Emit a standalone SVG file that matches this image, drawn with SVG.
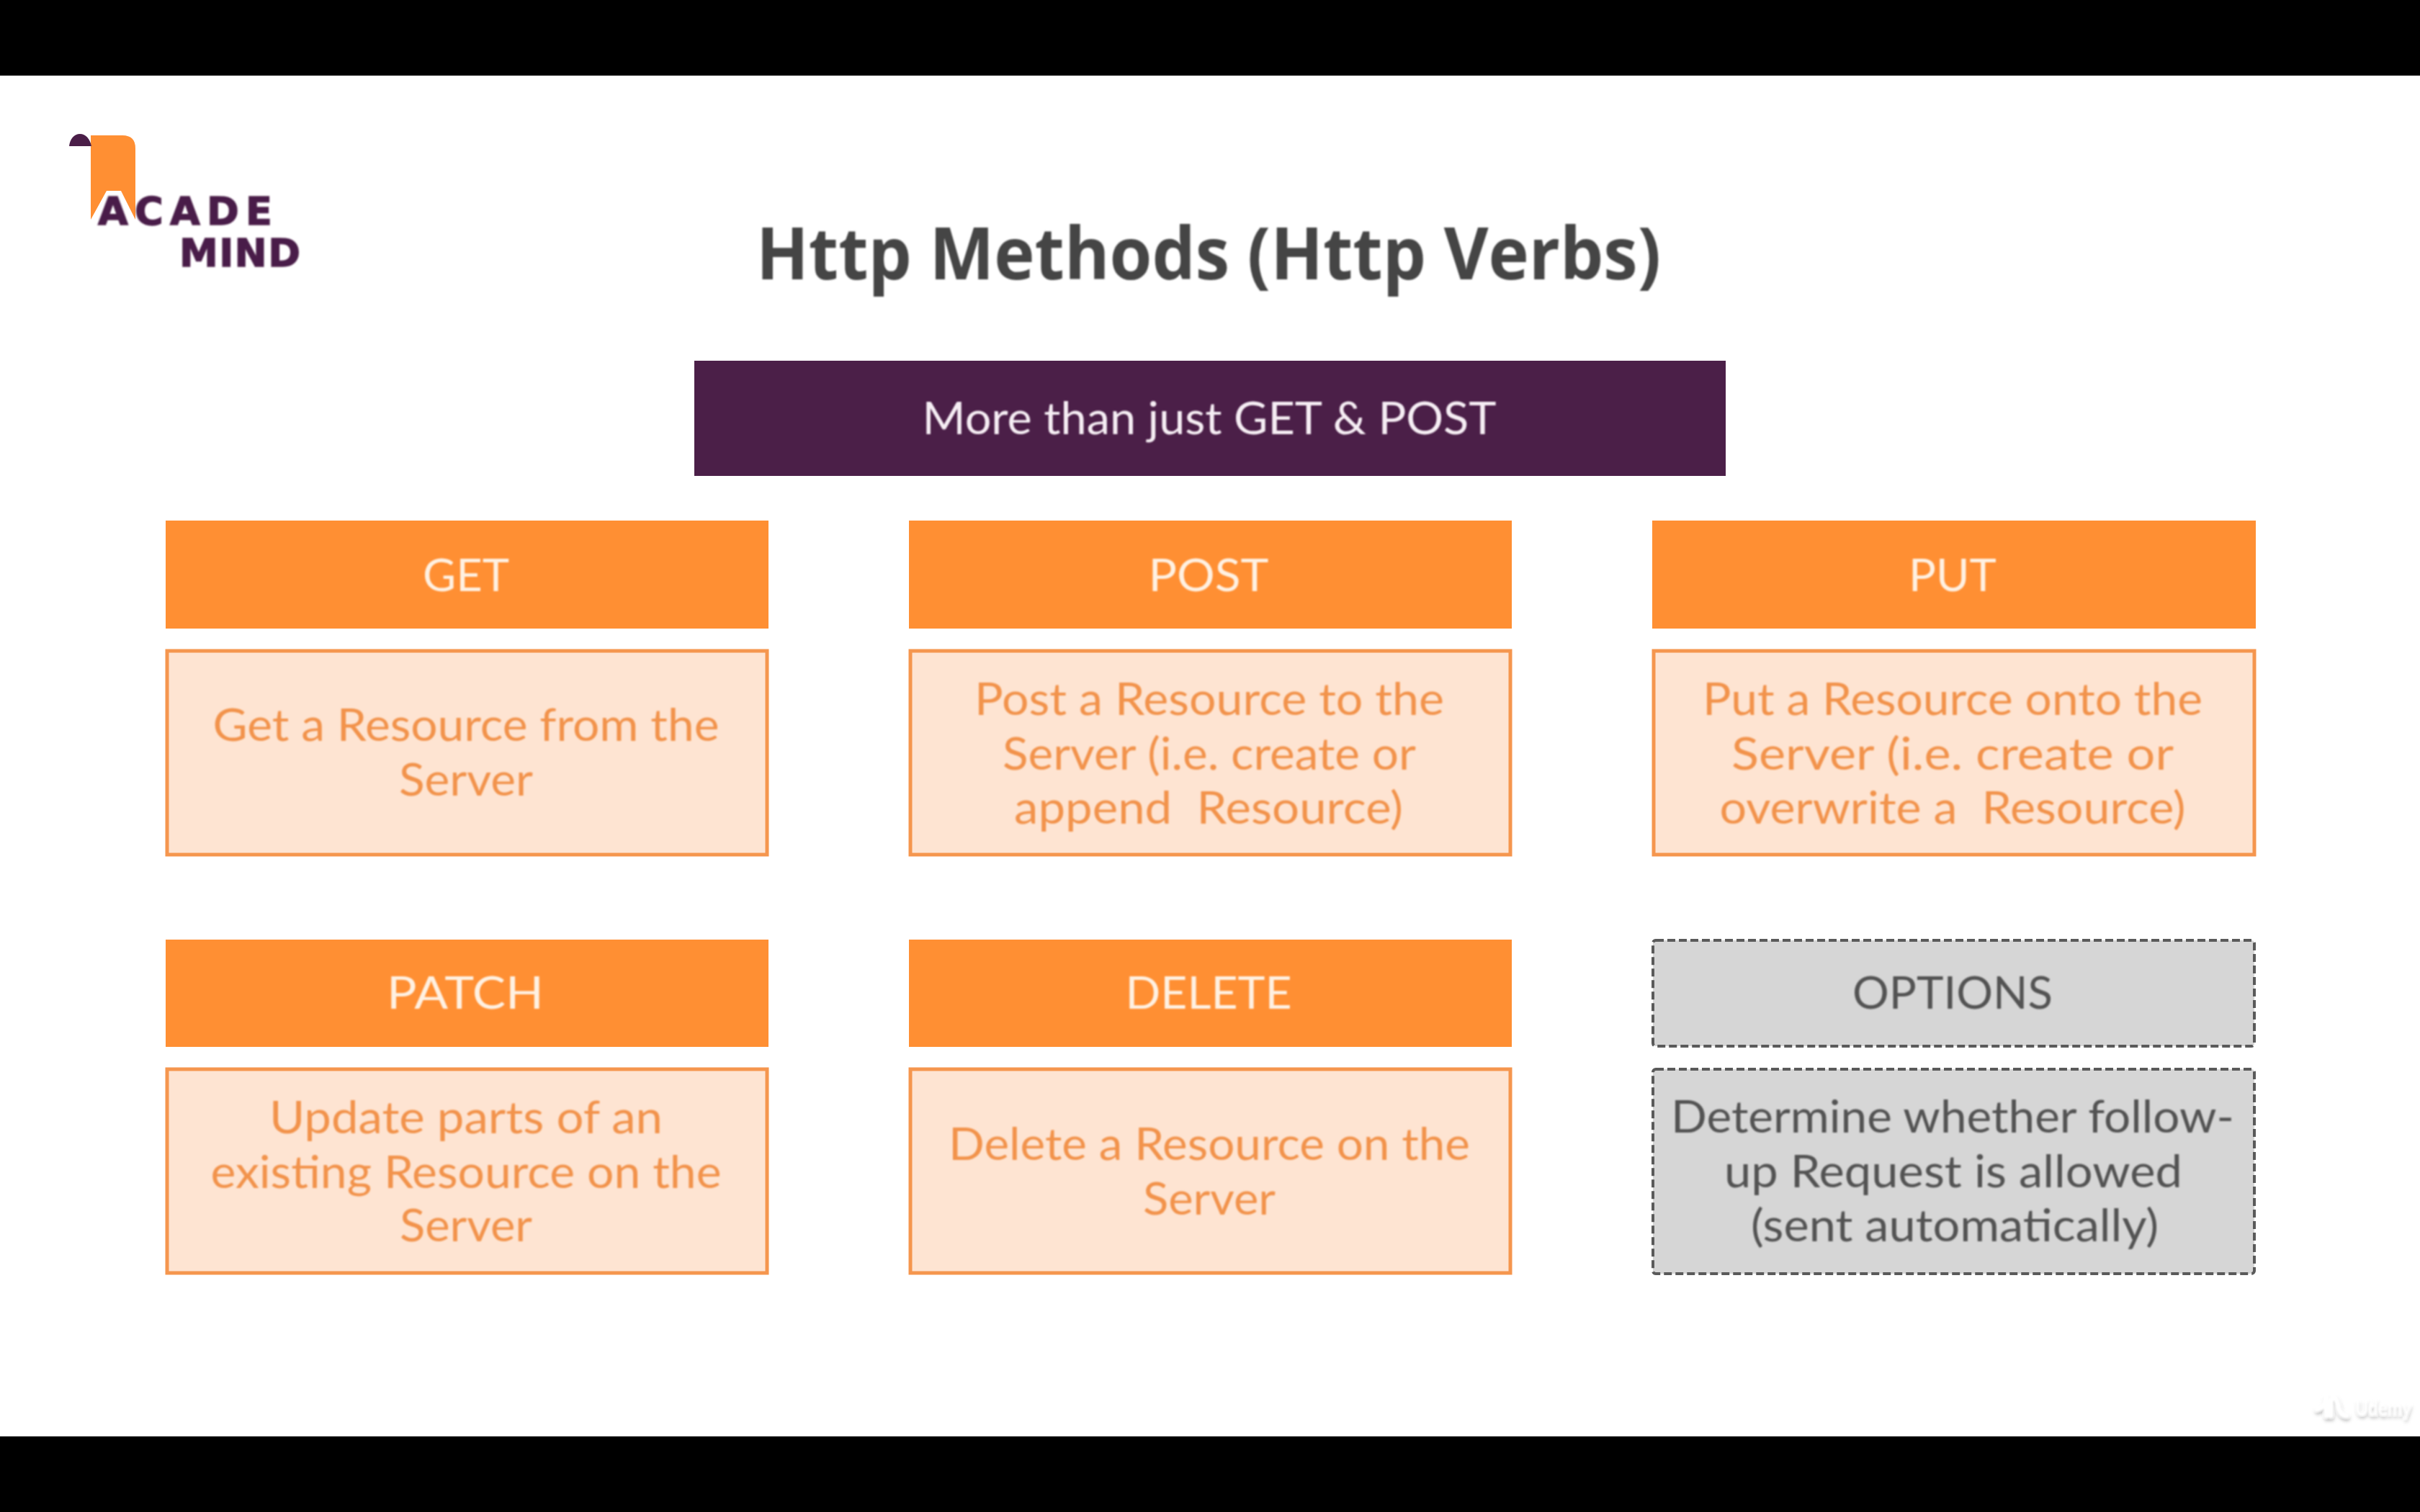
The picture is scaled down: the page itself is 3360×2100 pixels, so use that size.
<svg xmlns="http://www.w3.org/2000/svg" width="3360" height="2100" viewBox="0 0 3360 2100">
<defs>
<filter id="soft" x="-5%" y="-20%" width="110%" height="140%"><feGaussianBlur stdDeviation="0.9"/></filter>
<filter id="wm" x="-20%" y="-30%" width="140%" height="160%"><feGaussianBlur in="SourceAlpha" stdDeviation="2.5" result="b"/><feOffset in="b" dx="1" dy="4" result="o"/><feFlood flood-color="#000" flood-opacity="0.28"/><feComposite in2="o" operator="in" result="s"/><feGaussianBlur in="SourceGraphic" stdDeviation="1.2" result="g"/><feMerge><feMergeNode in="s"/><feMergeNode in="g"/></feMerge></filter>
</defs>
<style>
text{font-family:"Lato","Noto Sans",sans-serif;text-anchor:middle;filter:url(#soft)}
.band{fill:#000}
.hd{fill:#FF8F33}
.bd{fill:#FEE4D2;stroke:#F5964E;stroke-width:5}
.gh{fill:#D6D6D6;stroke:#5A5A5A;stroke-width:4;stroke-dasharray:11 5}
.th{font-size:62px;fill:#FFF1E2}
.tb{font-size:62px;fill:#F2934C}
.gt{font-size:62px;fill:#525252}
.title{font-family:"Open Sans","Noto Sans",sans-serif;font-weight:700;font-size:100px;fill:#444}
.logo{font-family:"DejaVu Sans",sans-serif;font-weight:700;font-size:54px;fill:#4A1E48;stroke:#4A1E48;stroke-width:1.5;text-anchor:start}
</style>
<rect width="3360" height="2100" fill="#fff"/>
<rect class="band" width="3360" height="105"/>
<rect class="band" y="1995" width="3360" height="105"/>
<g id="logo">
<path d="M126 188H170Q188 188 188 206V305L168 265H148L126 305Z" fill="#FF8F33"/>
<path d="M96 203C97 193 103 186 111 186C119 186 125 193 127 203Z" fill="#4A1E48"/>
<text class="logo" x="136" y="312" textLength="242" lengthAdjust="spacing">ACADE</text>
<text class="logo" x="249" y="370" textLength="168" lengthAdjust="spacing">MIND</text>
</g>
<g id="title"><text class="title" x="1678" y="388" textLength="1256" lengthAdjust="spacingAndGlyphs">Http Methods (Http Verbs)</text></g>
<g id="banner"><rect x="964" y="501" width="1432" height="160" fill="#4B1F48"/>
<text x="1679" y="603" font-size="62" fill="#F6EEF4" textLength="797" lengthAdjust="spacingAndGlyphs">More than just GET &amp; POST</text></g>

<g id="get-head"><rect class="hd" x="230" y="723" width="837" height="150"/><text class="th" x="647" y="821" textLength="120" lengthAdjust="spacingAndGlyphs">GET</text></g>
<g id="get-body"><rect class="bd" x="232" y="904" width="833" height="283"/>
<text class="tb" x="647" y="1029" textLength="703" lengthAdjust="spacingAndGlyphs">Get a Resource from the</text>
<text class="tb" x="647" y="1105" textLength="186" lengthAdjust="spacingAndGlyphs">Server</text></g>

<g id="post-head"><rect class="hd" x="1262" y="723" width="837" height="150"/><text class="th" x="1678" y="821" textLength="167" lengthAdjust="spacingAndGlyphs">POST</text></g>
<g id="post-body"><rect class="bd" x="1264" y="904" width="833" height="283"/>
<text class="tb" x="1679" y="993" textLength="652" lengthAdjust="spacingAndGlyphs">Post a Resource to the</text>
<text class="tb" x="1679" y="1069" textLength="574" lengthAdjust="spacingAndGlyphs">Server (i.e. create or</text>
<text class="tb" x="1678" y="1144" textLength="540" lengthAdjust="spacingAndGlyphs" xml:space="preserve">append  Resource)</text></g>

<g id="put-head"><rect class="hd" x="2294" y="723" width="838" height="150"/><text class="th" x="2711" y="821" textLength="122" lengthAdjust="spacingAndGlyphs">PUT</text></g>
<g id="put-body"><rect class="bd" x="2296" y="904" width="834" height="283"/>
<text class="tb" x="2711" y="993" textLength="694" lengthAdjust="spacingAndGlyphs">Put a Resource onto the</text>
<text class="tb" x="2711" y="1069" textLength="614" lengthAdjust="spacingAndGlyphs">Server (i.e. create or</text>
<text class="tb" x="2711" y="1144" textLength="647" lengthAdjust="spacingAndGlyphs" xml:space="preserve">overwrite a  Resource)</text></g>

<g id="patch-head"><rect class="hd" x="230" y="1305" width="837" height="149"/><text class="th" x="646" y="1401" textLength="218" lengthAdjust="spacingAndGlyphs">PATCH</text></g>
<g id="patch-body"><rect class="bd" x="232" y="1485" width="833" height="283"/>
<text class="tb" x="647" y="1574" textLength="546" lengthAdjust="spacingAndGlyphs">Update parts of an</text>
<text class="tb" x="647" y="1650" textLength="709" lengthAdjust="spacingAndGlyphs">existing Resource on the</text>
<text class="tb" x="647" y="1724" textLength="184" lengthAdjust="spacingAndGlyphs">Server</text></g>

<g id="delete-head"><rect class="hd" x="1262" y="1305" width="837" height="149"/><text class="th" x="1678" y="1401" textLength="231" lengthAdjust="spacingAndGlyphs">DELETE</text></g>
<g id="delete-body"><rect class="bd" x="1264" y="1485" width="833" height="283"/>
<text class="tb" x="1679" y="1611" textLength="724" lengthAdjust="spacingAndGlyphs">Delete a Resource on the</text>
<text class="tb" x="1679" y="1687" textLength="184" lengthAdjust="spacingAndGlyphs">Server</text></g>

<g id="options-head"><rect class="gh" x="2295" y="1306" width="835" height="147" rx="4"/><text class="gt" x="2711" y="1401" textLength="278" lengthAdjust="spacingAndGlyphs">OPTIONS</text></g>
<g id="options-body"><rect class="gh" x="2295" y="1485" width="835" height="284" rx="4"/>
<text class="gt" x="2711" y="1573" textLength="782" lengthAdjust="spacingAndGlyphs">Determine whether follow-</text>
<text class="gt" x="2712" y="1649" textLength="636" lengthAdjust="spacingAndGlyphs">up Request is allowed</text>
<text class="gt" x="2714" y="1724" textLength="566" lengthAdjust="spacingAndGlyphs">(sent automatically)</text></g>

<g id="watermark" filter="url(#wm)">
<path d="M3217 1957Q3225 1955 3228 1948L3230 1938V1966M3236 1966V1946Q3241 1933 3246 1950Q3248 1966 3258 1966" fill="none" stroke="#fff" stroke-width="7" stroke-linecap="round"/>
<text x="3309" y="1966" font-size="30" font-weight="700" fill="#fff" style="filter:none" textLength="78" lengthAdjust="spacingAndGlyphs">Udemy</text>
</g>
</svg>
